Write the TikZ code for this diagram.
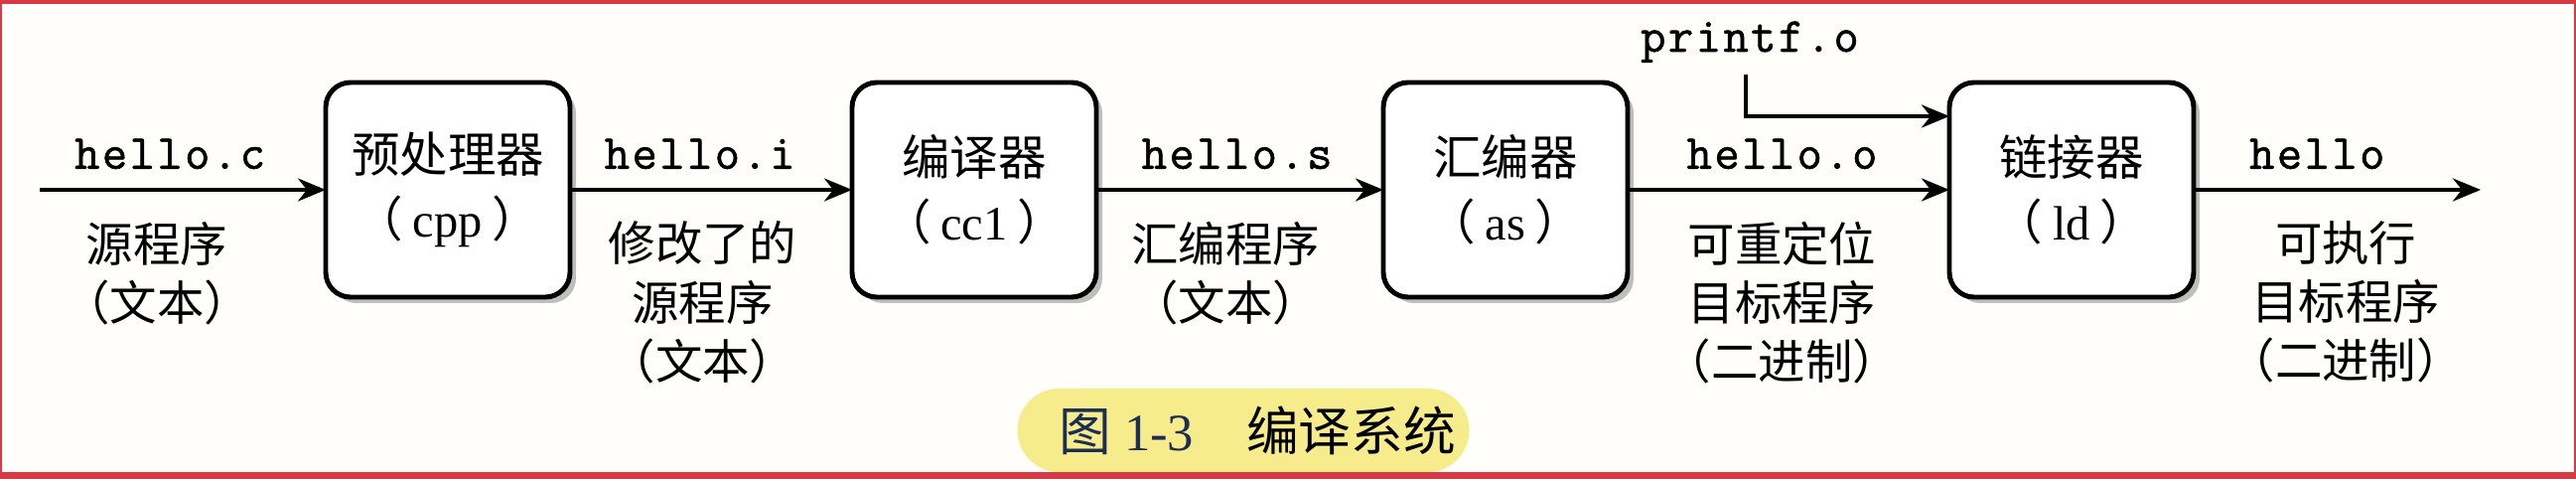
\documentclass[tikz,border=0pt]{standalone}
\usepackage{fontspec}
\setmainfont{Liberation Serif}
\setmonofont[LetterSpace=4.9,FakeBold=1.2]{Latin Modern Mono}
\newfontfamily\cjk{Noto Sans CJK SC}
\usetikzlibrary{arrows.meta,positioning,shadows}
\definecolor{framered}{RGB}{214,58,68}
\definecolor{capyellow}{RGB}{246,236,140}
\definecolor{capblue}{RGB}{30,45,85}
\definecolor{paper}{RGB}{255,254,250}

\begin{document}
\begin{tikzpicture}[font=\fontsize{13.5}{16.8}\selectfont,>={Stealth[length=0.28cm,width=0.23cm]},
    line width=1.1pt,
    st/.style={draw,line width=1.4pt,rounded corners=0.25cm,minimum width=2.46cm,minimum height=2.16cm,
      fill=white,align=center,inner sep=0pt,outer sep=0pt,font=\fontsize{13.8}{18.5}\selectfont,
      drop shadow={shadow xshift=0.06cm,shadow yshift=-0.06cm,fill=black!50,opacity=0.5}},
    fn/.style={font=\fontsize{14}{16}\selectfont\ttfamily,inner sep=0pt,above=0.19cm},
    desc/.style={font=\fontsize{13.5}{16.8}\selectfont\cjk,align=center,inner sep=0pt,below=0.30cm}]
  % frame
  \fill[framered] (0,0) rectangle (25.94,4.82);
  \fill[paper] (0.02,0.07) rectangle (25.915,4.78);
  \useasboundingbox (0,0) rectangle (25.94,4.82);
  % tools
  \node[st] (pre) at (4.51,2.91) {{\cjk 预处理器}\\{\cjk （}\hspace{0.2em}cpp\hspace{0.2em}{\cjk ）}};
  \node[st,right=2.84cm of pre] (comp) {{\cjk 编译器}\\{\cjk （}\hspace{0.2em}cc1\hspace{0.2em}{\cjk ）}};
  \node[st,right=2.89cm of comp] (asm) {{\cjk 汇编器}\\{\cjk （}\hspace{0.2em}as\hspace{0.2em}{\cjk ）}};
  \node[st,right=3.24cm of asm] (link) {{\cjk 链接器}\\{\cjk （}\hspace{0.2em}ld\hspace{0.2em}{\cjk ）}};
  \coordinate[left=2.88cm of pre.west] (src);
  \coordinate[right=2.89cm of link.east] (exe);
  \node[font=\fontsize{14}{16}\selectfont\ttfamily,inner sep=0pt,anchor=base] (pf) at (17.62,4.30) {printf.o};
  % flow
  \draw[->] (src) -- node[fn,pos=0.455] {hello.c} node[desc,pos=0.41] {源程序\\（文本）} (pre);
  \draw[->] (pre) -- node[fn,pos=0.46] {hello.i} node[desc,pos=0.47] {修改了的\\源程序\\（文本）} (comp);
  \draw[->] (comp) -- node[fn,pos=0.49] {hello.s} node[desc,pos=0.45] {汇编程序\\（文本）} (asm);
  \draw[->] (asm) -- node[fn,pos=0.48] {hello.o} node[desc,pos=0.48] {可重定位\\目标程序\\（二进制）} (link);
  \draw[->] (link) -- node[fn,pos=0.43] {hello} node[desc,pos=0.53] {可执行\\目标程序\\（二进制）} (exe);
  \draw[->] ([xshift=-0.04cm,yshift=-0.10cm]pf.south) |- ([yshift=0.74cm]link.west);
  % caption
  \node[fill=capyellow,rounded corners=0.42cm,minimum width=4.55cm,minimum height=0.84cm,inner sep=0pt,
    font=\fontsize{15}{18}\selectfont] (cap) at (12.52,0.49)
    {\hspace*{0.28cm}{\color{capblue}{\cjk 图} 1-3}\hspace{1.0em}{\cjk 编译系统}};
\end{tikzpicture}
\end{document}
